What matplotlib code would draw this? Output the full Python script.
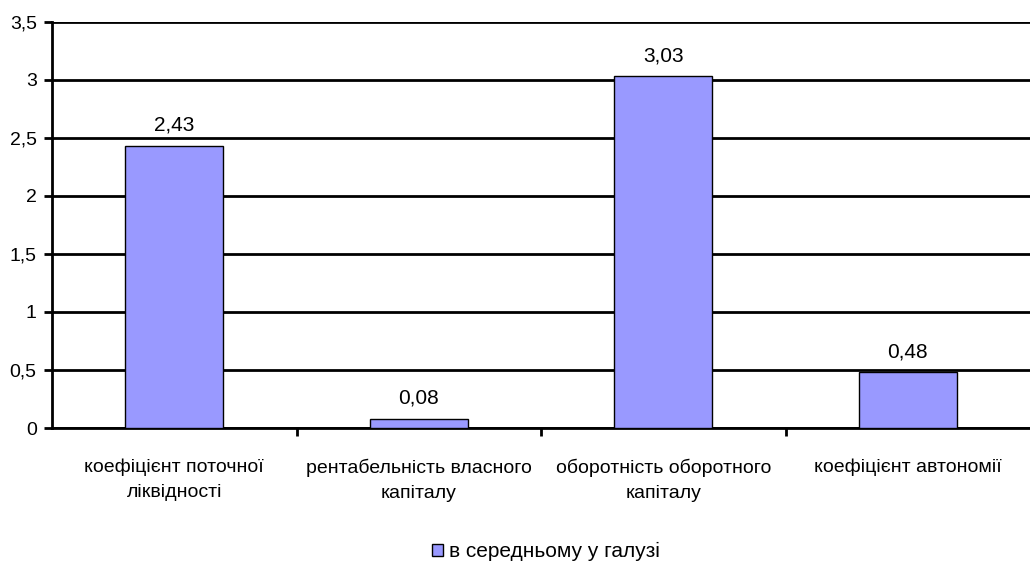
import matplotlib.pyplot as plt
from matplotlib.ticker import FuncFormatter, FixedLocator

plt.rcParams['font.family'] = ['Liberation Sans', 'DejaVu Sans']

categories = ['коефіцієнт поточної\nліквідності',
              'рентабельність власного\nкапіталу',
              'оборотність оборотного\nкапіталу',
              'коефіцієнт автономії']
values = [2.43, 0.08, 3.03, 0.48]
series_name = 'в середньому у галузі'

fig = plt.figure(figsize=(10.3, 5.62), dpi=100)
ax = fig.add_axes([0.0505, 0.2384, 0.9495, 0.7226])

x = list(range(len(categories)))
bars = ax.bar(x, values, width=0.4, color='#9999FF', edgecolor='black',
              linewidth=1.0, zorder=3, label=series_name)

for xi, v in zip(x, values):
    ax.annotate(f'{v:.2f}'.replace('.', ','), (xi, v), xytext=(0, 8),
                textcoords='offset points', ha='center', va='bottom',
                fontsize=15)

ax.set_xlim(-0.5, len(categories) - 0.5)
ax.set_ylim(0, 3.5)
ax.set_yticks([i * 0.5 for i in range(8)])
ax.yaxis.set_major_formatter(FuncFormatter(lambda v, p: f'{v:g}'.replace('.', ',')))
ax.yaxis.grid(True, color='black', linewidth=2, zorder=0)

# category names sit between the boundary ticks
ax.set_xticks(x)
ax.set_xticklabels(categories, fontsize=14, linespacing=1.6)
ax.tick_params(axis='x', length=0, pad=22)
ax.xaxis.set_minor_locator(FixedLocator([i + 0.5 for i in range(len(categories) - 1)]))
ax.tick_params(axis='x', which='minor', length=6, width=2, direction='out')
ax.tick_params(axis='y', length=6, width=2, labelsize=14, pad=5)

for side in ['top', 'right']:
    ax.spines[side].set_visible(False)
ax.spines['left'].set_linewidth(2)
ax.spines['bottom'].set_linewidth(2)

fig.legend(handles=[bars], labels=[series_name], loc='center',
           bbox_to_anchor=(0.530, 0.018), frameon=False, fontsize=15,
           handlelength=0.55, handleheight=0.55, handletextpad=0.3)

fig.savefig('out.png', dpi=100)
